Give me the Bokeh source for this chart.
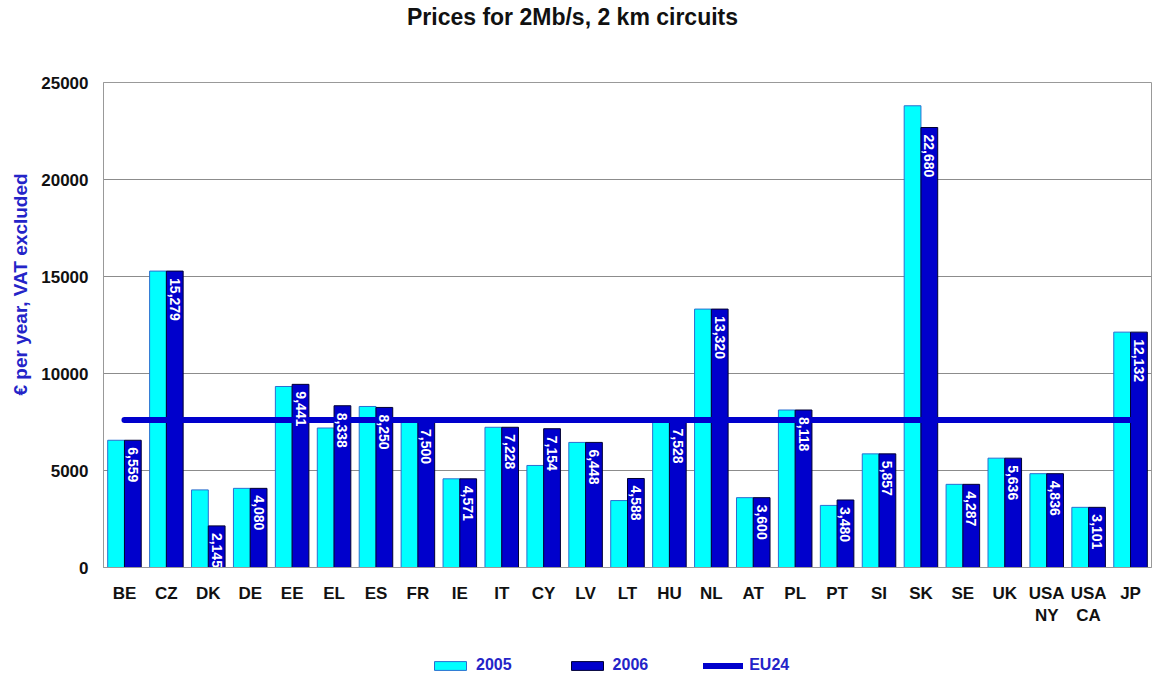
import math
from bokeh.plotting import figure
from bokeh.layouts import column
from bokeh.models import (ColumnDataSource, Range1d, FixedTicker, Legend, LegendItem,
                          NumeralTickFormatter, Label, Title)
from bokeh.transform import dodge
from bokeh.core.properties import value
from bokeh.embed import file_html
from bokeh.resources import INLINE

# ---------------- data ----------------
countries = ["BE", "CZ", "DK", "DE", "EE", "EL", "ES", "FR", "IE", "IT", "CY", "LV", "LT",
             "HU", "NL", "AT", "PL", "PT", "SI", "SK", "SE", "UK", "USA\nNY", "USA\nCA", "JP"]
prices_2005 = [6559, 15279, 4000, 4080, 9330, 7190, 8300, 7500, 4571, 7228, 5260, 6448, 3450,
               7528, 13320, 3600, 8118, 3200, 5857, 23800, 4287, 5636, 4836, 3101, 12132]
prices_2006 = [6559, 15279, 2145, 4080, 9441, 8338, 8250, 7500, 4571, 7228, 7154, 6448, 4588,
               7528, 13320, 3600, 8118, 3480, 5857, 22680, 4287, 5636, 4836, 3101, 12132]
labels_2006 = ["{:,}".format(v) for v in prices_2006]
eu24 = 7600
y_ticks = [0, 5000, 10000, 15000, 20000, 25000]
series_names = ["2005", "2006", "EU24"]
title_text = "Prices for 2Mb/s, 2 km circuits"
y_label_text = "€ per year, VAT excluded"

pos = list(range(len(countries)))
src = ColumnDataSource(dict(pos=pos, v05=prices_2005, v06=prices_2006, lab=labels_2006))

FONT = "Liberation Sans"
C05 = "#00FFFF"
C06 = "#0000CC"
BLUE_TXT = "#2424C8"
W = 1151


def blank(height):
    f = figure(width=W, height=height, x_range=Range1d(0, 1), y_range=Range1d(0, 1),
               output_backend="svg", toolbar_location=None, x_axis_location=None,
               y_axis_location=None, min_border=0, outline_line_color=None)
    f.grid.visible = False
    return f


# ---------------- title strip ----------------
tf = blank(34)
tf.add_layout(Label(x=469, y=18, x_units="screen", y_units="screen", text=title_text,
                    text_align="center", text_baseline="middle", text_font=FONT,
                    text_font_size="23px", text_font_style="bold", text_color="#111111"))

# ---------------- main chart ----------------
p = figure(x_range=Range1d(-0.5, len(countries) - 0.5), y_range=Range1d(0, 25000),
           frame_width=1048, frame_height=485,
           output_backend="svg", toolbar_location=None,
           min_border_left=102, min_border_right=1, min_border_top=48, min_border_bottom=58)

p.outline_line_color = "#999999"
p.xgrid.grid_line_color = None
p.ygrid.grid_line_color = "#8C8C8C"
p.ygrid.grid_line_width = 1
p.ygrid.ticker = FixedTicker(ticks=y_ticks)

p.vbar(x=dodge("pos", -0.2), top="v05", width=0.4, source=src,
       fill_color=C05, line_color="#2A6FD0", line_width=1)
p.vbar(x=dodge("pos", 0.2), top="v06", width=0.4, source=src,
       fill_color=C06, line_color="#000033", line_width=1)
p.line(x=[pos[0], pos[-1]], y=[eu24, eu24], line_color=C06, line_width=6, line_cap="round")

p.text(x=dodge("pos", 0.2), y="v06", text="lab", source=src,
       angle=-math.pi / 2, text_align="left", text_baseline="middle", y_offset=7,
       text_color="white", text_font=value(FONT), text_font_size="14px",
       text_font_style="bold")

p.yaxis.ticker = FixedTicker(ticks=y_ticks)
p.yaxis.formatter = NumeralTickFormatter(format="0")
p.yaxis.major_label_text_font = FONT
p.yaxis.major_label_text_font_size = "17px"
p.yaxis.major_label_text_font_style = "bold"
p.yaxis.major_label_text_color = "#111111"
p.yaxis.major_tick_line_color = None
p.yaxis.minor_tick_line_color = None
p.yaxis.major_tick_out = 0
p.yaxis.major_label_standoff = 15
p.yaxis.axis_line_color = "#999999"

p.add_layout(Title(text=y_label_text, align="left", offset=172, standoff=15,
                   text_font=FONT, text_font_size="19px", text_font_style="bold",
                   text_color=BLUE_TXT), "left")

p.xaxis.ticker = FixedTicker(ticks=pos)
p.xaxis.major_label_overrides = {i: c for i, c in zip(pos, countries)}
p.xaxis.major_label_text_font = FONT
p.xaxis.major_label_text_font_size = "17px"
p.xaxis.major_label_text_font_style = "bold"
p.xaxis.major_label_text_color = "#111111"
p.xaxis.major_tick_line_color = None
p.xaxis.minor_tick_line_color = None
p.xaxis.major_tick_out = 0
p.xaxis.major_label_standoff = 16
p.xaxis.axis_line_color = "#999999"

# ---------------- legend strip (key glyphs are zero-size and off the strip's range) ------
lf = blank(48)
k05 = lf.vbar(x=[-10], top=[0], width=0.4, fill_color=C05, line_color="#2A6FD0", line_width=1)
k06 = lf.vbar(x=[-10], top=[0], width=0.4, fill_color=C06, line_color="#000033", line_width=1)
keu = lf.line(x=[-10, -9], y=[-5, -5], line_color=C06, line_width=6, line_cap="round")
legend = Legend(items=[LegendItem(label=series_names[0], renderers=[k05]),
                       LegendItem(label=series_names[1], renderers=[k06]),
                       LegendItem(label=series_names[2], renderers=[keu])],
                orientation="horizontal", location=(327, 2))
legend.label_text_font = FONT
legend.label_text_font_size = "16px"
legend.label_text_font_style = "bold"
legend.label_text_color = BLUE_TXT
legend.glyph_width = 40
legend.glyph_height = 11
legend.spacing = 55
legend.label_standoff = 6
legend.border_line_color = None
legend.background_fill_alpha = 0
legend.padding = 0
legend.margin = 0
lf.add_layout(legend, "center")

layout = column(tf, p, lf, spacing=0)
open("out.html", "w").write(file_html(layout, INLINE))
